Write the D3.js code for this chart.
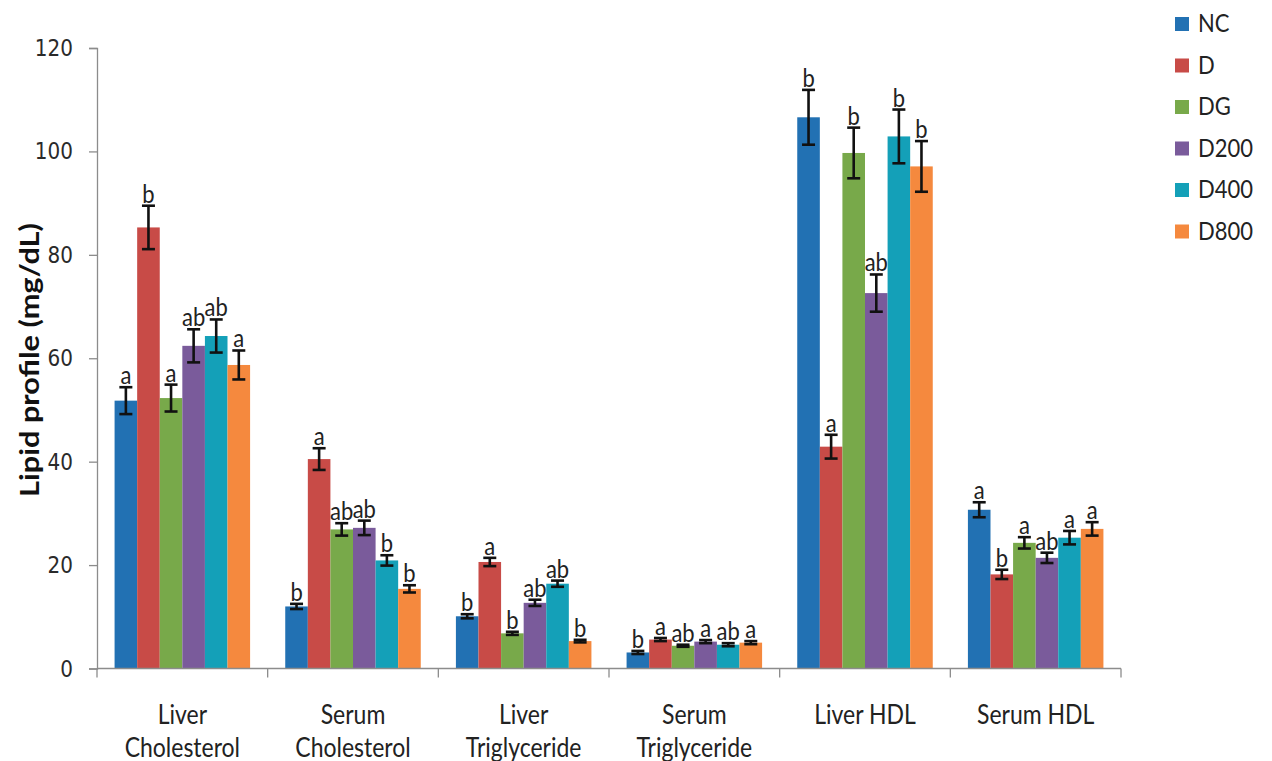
<!DOCTYPE html>
<html>
<head>
<meta charset="utf-8">
<script src="https://cdn.jsdelivr.net/npm/d3@7"></script>
<style>
  html, body { margin: 0; padding: 0; background: #fff; }
  svg { display: block; }
</style>
</head>
<body>
<svg id="chart" width="1272" height="761"></svg>
<script>
// Lipid measurements, one group per category
const categories = ["Liver Cholesterol", "Serum Cholesterol", "Liver Triglyceride",
                    "Serum Triglyceride", "Liver HDL", "Serum HDL"];
const categoryLines = [["Liver", "Cholesterol"], ["Serum", "Cholesterol"], ["Liver", "Triglyceride"],
                       ["Serum", "Triglyceride"], ["Liver HDL"], ["Serum HDL"]];
const seriesNames = ["NC", "D", "DG", "D200", "D400", "D800"];

// mean values (mg/dL), per series across categories
const valNC   = [51.8, 12.0, 10.1, 3.1, 106.6, 30.7];
const valD    = [85.3, 40.5, 20.6, 5.6, 42.9, 18.2];
const valDG   = [52.3, 26.9, 6.8, 4.4, 99.7, 24.3];
const valD200 = [62.4, 27.2, 12.7, 5.2, 72.6, 21.4];
const valD400 = [64.3, 20.9, 16.4, 4.6, 102.9, 25.3];
const valD800 = [58.7, 15.4, 5.3, 5.0, 97.1, 27.0];

// standard errors
const errNC   = [2.6, 0.5, 0.4, 0.3, 5.3, 1.45];
const errD    = [4.2, 2.1, 0.8, 0.3, 2.3, 0.9];
const errDG   = [2.6, 1.2, 0.3, 0.2, 4.9, 1.1];
const errD200 = [3.2, 1.4, 0.6, 0.3, 3.6, 1.0];
const errD400 = [3.2, 1.0, 0.6, 0.3, 5.2, 1.3];
const errD800 = [2.8, 0.7, 0.25, 0.3, 4.9, 1.3];

// significance letters
const sigNC   = ["a", "b", "b", "b", "b", "a"];
const sigD    = ["b", "a", "a", "a", "a", "b"];
const sigDG   = ["a", "ab", "b", "ab", "b", "a"];
const sigD200 = ["ab", "ab", "ab", "a", "ab", "ab"];
const sigD400 = ["ab", "b", "ab", "ab", "b", "a"];
const sigD800 = ["a", "b", "b", "a", "b", "a"];

const yTicks = [0, 20, 40, 60, 80, 100, 120];
const colors = ["#2271b3", "#c84b47", "#78a94a", "#7a5b9b", "#14a0b8", "#f5893e"];

const values = [valNC, valD, valDG, valD200, valD400, valD800];
const errors = [errNC, errD, errDG, errD200, errD400, errD800];
const sigs = [sigNC, sigD, sigDG, sigD200, sigD400, sigD800];

const rows = [];
seriesNames.forEach((s, si) => {
  categories.forEach((c, ci) => {
    rows.push({ series: s, si, cat: c, value: values[si][ci], err: errors[si][ci], sig: sigs[si][ci] });
  });
});

const svg = d3.select("#chart");
const plotLeft = 97, plotRight = 1121, plotTop = 48, plotBottom = 668.5;
const TALL = 1.18; // vertical stretch applied to the chart's lettering

const x0 = d3.scaleBand().domain(categories).range([plotLeft, plotRight]).paddingInner(0).paddingOuter(0);
const pad = x0.bandwidth() * 0.103;
const x1 = d3.scaleBand().domain(seriesNames).range([pad, x0.bandwidth() - pad]).padding(0);
const y = d3.scaleLinear().domain([0, 120]).range([plotBottom, plotTop]);

// bars
svg.append("g").selectAll("rect").data(rows).join("rect")
  .attr("x", d => x0(d.cat) + x1(d.series))
  .attr("y", d => y(d.value))
  .attr("width", x1.bandwidth())
  .attr("height", d => y(0) - y(d.value))
  .attr("fill", d => colors[d.si]);

// error bars
const eg = svg.append("g").attr("stroke", "#111").attr("stroke-width", 2.6);
const cap = 6.5;
rows.forEach(d => {
  const cx = x0(d.cat) + x1(d.series) + x1.bandwidth() / 2;
  const y1 = y(d.value + d.err), y2 = y(d.value - d.err);
  eg.append("line").attr("x1", cx).attr("x2", cx).attr("y1", y1).attr("y2", y2);
  eg.append("line").attr("x1", cx - cap).attr("x2", cx + cap).attr("y1", y1).attr("y2", y1);
  eg.append("line").attr("x1", cx - cap).attr("x2", cx + cap).attr("y1", y2).attr("y2", y2);
});

// significance letters
svg.append("g").selectAll("text").data(rows).join("text")
  .attr("transform", d => {
    const cx = x0(d.cat) + x1(d.series) + x1.bandwidth() / 2;
    return `translate(${cx},${y(d.value + d.err) - 3}) scale(1,${TALL})`;
  })
  .attr("text-anchor", "middle")
  .attr("font-family", "Lato, 'Open Sans', sans-serif")
  .attr("font-size", 22)
  .attr("fill", "#222")
  .text(d => d.sig);

// y axis
const yAxis = svg.append("g")
  .attr("transform", `translate(${plotLeft},0)`)
  .call(d3.axisLeft(y).tickValues(yTicks).tickSize(8).tickPadding(16).tickSizeOuter(8));
yAxis.select(".domain").attr("stroke", "#8c8c8c").attr("stroke-width", 1.3);
yAxis.selectAll(".tick line").attr("stroke", "#8c8c8c").attr("stroke-width", 1.3);
yAxis.selectAll(".tick text")
  .attr("transform", `scale(1,${TALL})`)
  .attr("font-family", "'DejaVu Sans', Verdana, sans-serif")
  .attr("font-size", 20)
  .attr("fill", "#2a2a2a");

// x axis
const xAxis = svg.append("g")
  .attr("transform", `translate(0,${plotBottom})`);
xAxis.append("line")
  .attr("x1", plotLeft).attr("x2", plotRight).attr("y1", 0).attr("y2", 0)
  .attr("stroke", "#8c8c8c").attr("stroke-width", 1.3);
const boundaries = categories.map(c => x0(c)).concat([plotRight]);
xAxis.selectAll("line.tk").data(boundaries).join("line")
  .attr("class", "tk")
  .attr("x1", d => d).attr("x2", d => d)
  .attr("y1", 0).attr("y2", 9)
  .attr("stroke", "#8c8c8c").attr("stroke-width", 1.3);
categories.forEach((c, i) => {
  categoryLines[i].forEach((ln, k) => {
    xAxis.append("text")
      .attr("transform", `translate(${x0(c) + x0.bandwidth() / 2},${55 + k * 33}) scale(1,${TALL})`)
      .attr("text-anchor", "middle")
      .attr("font-family", "Lato, 'Open Sans', sans-serif")
      .attr("font-size", 23)
      .attr("fill", "#222")
      .text(ln);
  });
});

// y axis title
svg.append("text")
  .attr("transform", `translate(39,360) rotate(-90) scale(${TALL},1)`)
  .attr("text-anchor", "middle")
  .attr("font-family", "Lato, 'Open Sans', sans-serif")
  .attr("font-weight", "bold")
  .attr("font-size", 26)
  .attr("fill", "#111")
  .text("Lipid profile (mg/dL)");

// legend
const legend = svg.append("g").attr("transform", "translate(1175,24)");
seriesNames.forEach((s, i) => {
  const g = legend.append("g").attr("transform", `translate(0,${i * 41.5})`);
  g.append("rect").attr("x", 0).attr("y", -7).attr("width", 14).attr("height", 14).attr("fill", colors[i]);
  g.append("text")
    .attr("transform", `translate(23,8) scale(1,${TALL})`)
    .attr("font-family", "Lato, 'Open Sans', sans-serif")
    .attr("font-size", 22)
    .attr("fill", "#222")
    .text(s);
});
</script>
</body>
</html>
